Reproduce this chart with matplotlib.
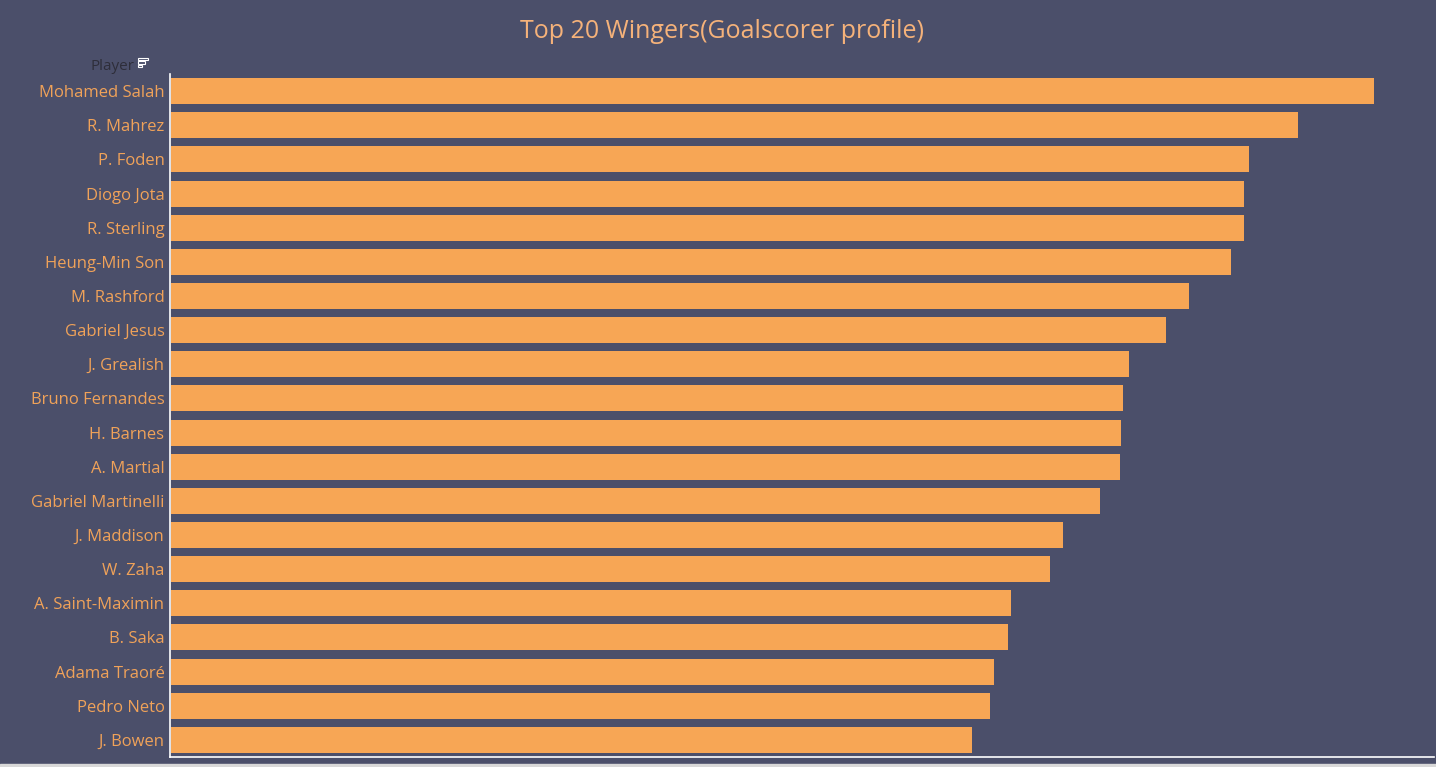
import matplotlib
matplotlib.use("Agg")
import matplotlib.pyplot as plt

players = ["Mohamed Salah", "R. Mahrez", "P. Foden", "Diogo Jota", "R. Sterling",
           "Heung-Min Son", "M. Rashford", "Gabriel Jesus", "J. Grealish",
           "Bruno Fernandes", "H. Barnes", "A. Martial", "Gabriel Martinelli",
           "J. Maddison", "W. Zaha", "A. Saint-Maximin", "B. Saka", "Adama Traoré",
           "Pedro Neto", "J. Bowen"]
values = [1203, 1127, 1078, 1073, 1073, 1060, 1018, 995, 958, 952,
          950, 949, 929, 892, 879, 840, 837, 823, 819, 801]

BG = "#4b4f6a"
BAR = "#f7a655"
LABEL = "#f0a259"

fig = plt.figure(figsize=(14.36, 7.67), dpi=100, facecolor=BG)
ax = fig.add_axes([170/1436, 1 - 757/767, (1434-170)/1436, (757-74)/767])
ax.set_facecolor(BG)

ypos = list(range(len(players)))
ax.barh(ypos, values, height=0.76, color=BAR, left=1)
ax.set_ylim(len(players) - 0.5, -0.5)
ax.set_xlim(0, 1264)
ax.set_yticks(ypos)
ax.set_yticklabels(players, fontsize=12, color=LABEL, family="Open Sans",
                   fontweight="medium", va="center_baseline")
ax.tick_params(axis="y", length=0, pad=4)
ax.set_xticks([])
for s in ["top", "right"]:
    ax.spines[s].set_visible(False)
for s in ["left", "bottom"]:
    ax.spines[s].set_color("white")
    ax.spines[s].set_linewidth(1.2)

fig.text(722/1436, 1 - 29/767, "Top 20 Wingers(Goalscorer profile)", ha="center", va="center_baseline",
         fontsize=18, color="#f5b27a", family="Open Sans")
fig.text(134/1436, 1 - 64/767, "Player", ha="right", va="center_baseline", fontsize=11,
         color="#2e2e3a", family="Open Sans")

# small sort icon next to the header
for i, w in enumerate([10, 7, 4]):
    fig.patches.append(plt.Rectangle((138/1436, 1 - (60 + i*3.5)/767), w/1436, 2.5/767,
                                     transform=fig.transFigure, fill=False,
                                     edgecolor="white", linewidth=0.8))

# bottom light strip
fig.patches.append(plt.Rectangle((0, 0), 1, 3/767, transform=fig.transFigure,
                                 color="#d8d8d8", zorder=0))

fig.savefig("out.png", dpi=100, facecolor=BG)
